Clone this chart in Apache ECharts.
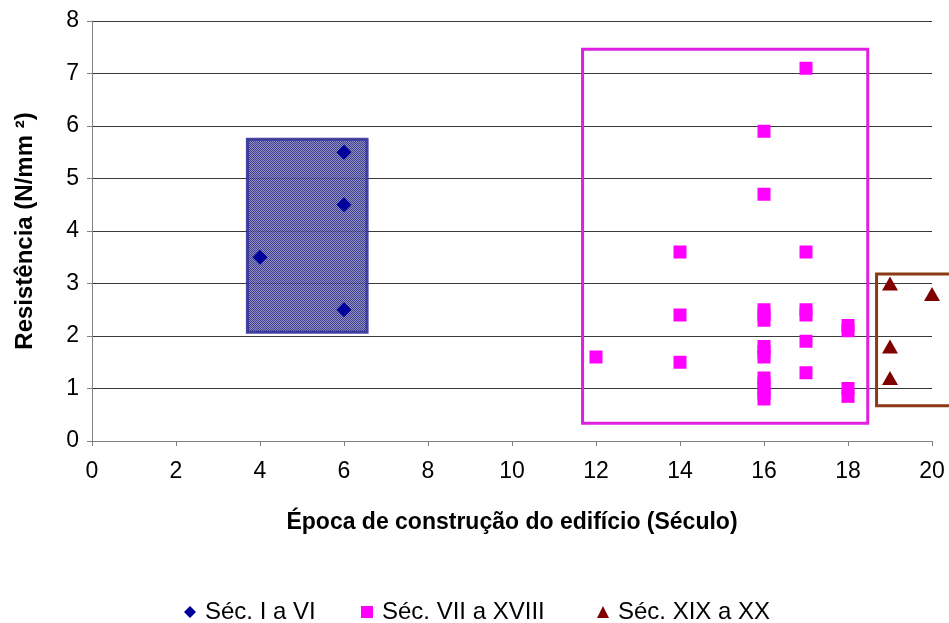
<!DOCTYPE html>
<html>
<head>
<meta charset="utf-8">
<script src="https://cdn.jsdelivr.net/npm/echarts@6/dist/echarts.min.js"></script>
<style>html,body{margin:0;padding:0;background:#fff}#c{width:949px;height:623px}</style>
</head>
<body>
<div id="c"></div>
<script>
// ---- data ----
const seriesNames = ['Séc. I a VI', 'Séc. VII a XVIII', 'Séc. XIX a XX'];
const blueX = [4, 6, 6, 6];
const blueY = [3.5, 5.5, 4.5, 2.5];
const magX = [12, 14, 14, 14, 16, 16, 16, 16, 16, 16, 16, 16, 16, 16, 16, 16, 16, 17, 17, 17, 17, 17, 17, 18, 18, 18, 18];
const magY = [1.6, 3.6, 2.4, 1.5, 5.9, 4.7, 2.5, 2.4, 2.3, 1.8, 1.7, 1.6, 1.2, 1.1, 1.0, 0.9, 0.8, 7.1, 3.6, 2.5, 2.4, 1.9, 1.3, 2.2, 2.1, 1.0, 0.85];
const redX = [19, 20, 19, 19];
const redY = [3.0, 2.8, 1.8, 1.2];
// group boxes (data coords): x0, x1, y0, y1
const boxX0 = [3.7, 11.68, 18.68];
const boxX1 = [6.55, 18.47, 21.5];
const boxY0 = [2.07, 0.34, 0.67];
const boxY1 = [5.75, 7.46, 3.18];
const xTicks = {min: 0, max: 20, interval: 2};
const yTicks = {min: 0, max: 8, interval: 1};

const zip = (xs, ys) => xs.map((x, i) => [x, ys[i]]);

// dotted pattern for the blue box
const pc = document.createElement('canvas');
pc.width = 2; pc.height = 2;
const g = pc.getContext('2d');
g.fillStyle = '#8585b5'; g.fillRect(0, 0, 2, 2);
g.fillStyle = '#2a2a8c'; g.fillRect(0, 0, 1, 1); g.fillRect(1, 1, 1, 1);

const boxStyles = [
  {fill: {image: pc, repeat: 'repeat'}, opacity: 0.9, stroke: '#333399', lineWidth: 3},
  {fill: null, stroke: '#e020e0', lineWidth: 3},
  {fill: null, stroke: '#8b3a14', lineWidth: 3}
];

const chart = echarts.init(document.getElementById('c'), null, {renderer: 'canvas'});
const font = '"Liberation Sans", Arial, sans-serif';
const legendLefts = [184, 361, 597];
chart.setOption({
  animation: false,
  backgroundColor: '#fff',
  grid: {left: 92, right: 17, top: 21, bottom: 182, containLabel: false},
  xAxis: {
    type: 'value', min: xTicks.min, max: xTicks.max, interval: xTicks.interval,
    name: 'Época de construção do edifício (Século)',
    nameLocation: 'middle', nameGap: 70,
    nameTextStyle: {fontFamily: font, fontSize: 23, fontWeight: 'bold', color: '#000', verticalAlign: 'top'},
    axisLine: {show: true, lineStyle: {color: '#808080', width: 1}},
    axisTick: {show: true, length: 5, lineStyle: {color: '#808080'}},
    axisLabel: {fontFamily: font, fontSize: 23, color: '#000', margin: 19},
    splitLine: {show: false}
  },
  yAxis: {
    type: 'value', min: yTicks.min, max: yTicks.max, interval: yTicks.interval,
    name: 'Resistência (N/mm ²)',
    nameLocation: 'middle', nameGap: 55, nameRotate: 90,
    nameTextStyle: {fontFamily: font, fontSize: 24, fontWeight: 'bold', color: '#000'},
    axisLine: {show: true, lineStyle: {color: '#808080', width: 1}},
    axisTick: {show: true, length: 5, lineStyle: {color: '#808080'}},
    axisLabel: {fontFamily: font, fontSize: 23, color: '#000', margin: 13},
    splitLine: {show: true, lineStyle: {color: '#3a3a3a', width: 1}}
  },
  legend: seriesNames.map((n, i) => ({
    data: [n],
    top: 600, left: legendLefts[i], padding: 0,
    itemWidth: 12, itemHeight: 12,
    textStyle: {fontFamily: font, fontSize: 24, color: '#000', padding: [0, 0, 0, 4]}
  })),
  series: [
    {
      name: 'boxes', type: 'custom', z: 1, clip: false, silent: true,
      data: boxX0.map((x, i) => [x, boxX1[i], boxY0[i], boxY1[i]]),
      renderItem: function (params, api) {
        const p0 = api.coord([api.value(0), api.value(3)]);
        const p1 = api.coord([api.value(1), api.value(2)]);
        const s = boxStyles[params.dataIndex];
        return {
          type: 'rect',
          shape: {x: p0[0], y: p0[1], width: p1[0] - p0[0], height: p1[1] - p0[1]},
          style: {fill: s.fill, stroke: s.stroke, lineWidth: s.lineWidth, opacity: s.opacity == null ? 1 : s.opacity}
        };
      }
    },
    {
      name: seriesNames[0], type: 'scatter', z: 3, clip: false,
      symbol: 'diamond', symbolSize: 15,
      itemStyle: {color: '#00009a', opacity: 1},
      data: zip(blueX, blueY)
    },
    {
      name: seriesNames[1], type: 'scatter', z: 3, clip: false,
      symbol: 'rect', symbolSize: 13,
      itemStyle: {color: '#ff00ff', opacity: 1},
      data: zip(magX, magY)
    },
    {
      name: seriesNames[2], type: 'scatter', z: 3, clip: false,
      symbol: 'triangle', symbolSize: [16, 14],
      itemStyle: {color: '#800000', opacity: 1},
      data: zip(redX, redY)
    }
  ]
});
</script>
</body>
</html>
